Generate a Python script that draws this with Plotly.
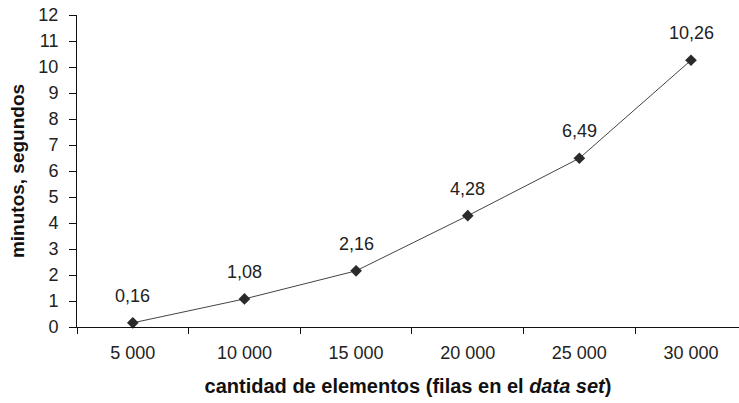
import plotly.graph_objects as go

# Processing time by data set size
categories = ["5 000", "10 000", "15 000", "20 000", "25 000", "30 000"]
times = [0.16, 1.08, 2.16, 4.28, 6.49, 10.26]
y_ticks = list(range(0, 13))

labels = [f"{v:.2f}".replace(".", ",") for v in times]

FONT = "Liberation Sans, Arial, sans-serif"
TICK_FONT = dict(family=FONT, size=18, color="#222222")

fig = go.Figure()
fig.add_trace(go.Scatter(
    x=categories,
    y=times,
    mode="lines+markers",
    line=dict(color="#444444", width=1),
    marker=dict(symbol="diamond", size=9, color="#2a2a2a"),
    cliponaxis=False,
    showlegend=False,
))

# value labels above each point
for cat, val, lab in zip(categories, times, labels):
    fig.add_annotation(
        x=cat, y=val, text=lab, showarrow=False,
        yshift=27, font=dict(family=FONT, size=18, color="#222222"),
    )

fig.update_layout(
    width=739,
    height=403,
    margin=dict(l=77, r=0, t=15, b=76),
    paper_bgcolor="white",
    plot_bgcolor="white",
    font=dict(family=FONT, size=18, color="#222222"),
    xaxis=dict(
        type="category",
        range=[-0.5, 5.43],
        showgrid=False,
        showline=True,
        linecolor="#111111",
        linewidth=1,
        ticks="outside",
        tickson="boundaries",
        ticklen=6,
        tickcolor="#111111",
        tickfont=TICK_FONT,
        ticklabelstandoff=9,
        title=dict(
            text="<b>cantidad de elementos (filas en el <i>data set</i>)</b>",
            font=dict(family=FONT, size=20, color="#111111"),
            standoff=17,
        ),
        zeroline=False,
    ),
    yaxis=dict(
        range=[0, 12],
        tickvals=y_ticks,
        showgrid=False,
        showline=True,
        linecolor="#111111",
        linewidth=1,
        ticks="outside",
        ticklen=7,
        tickcolor="#111111",
        tickfont=TICK_FONT,
        ticklabelstandoff=7,
        title=dict(
            text="<b>minutos, segundos</b>",
            font=dict(family=FONT, size=19, color="#111111"),
            standoff=8,
        ),
        zeroline=False,
    ),
)

fig.write_html("out.html")
